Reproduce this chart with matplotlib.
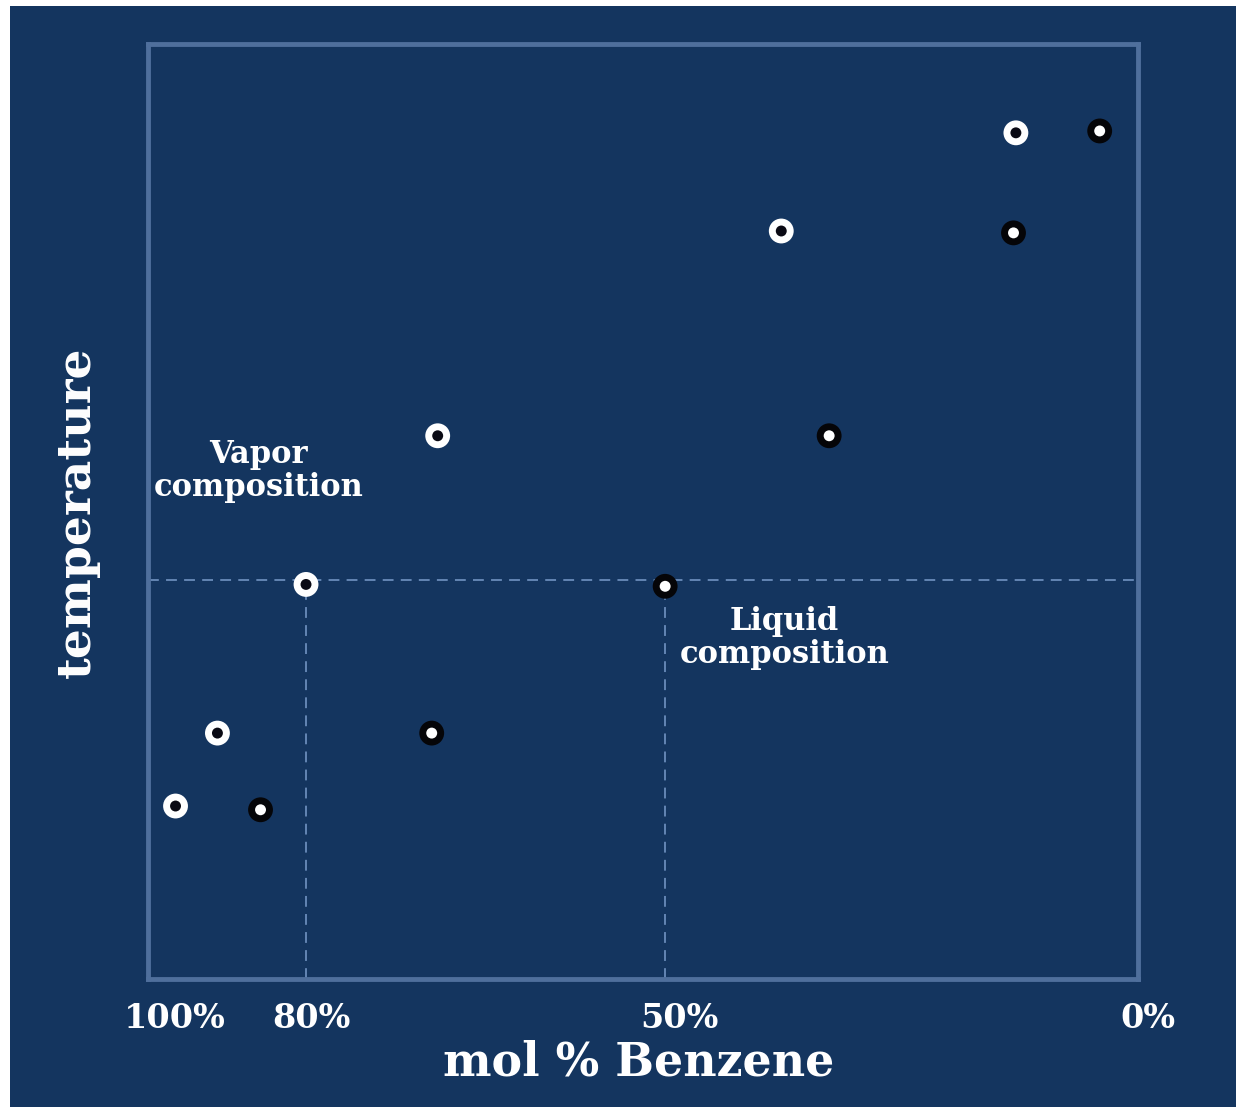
import matplotlib
matplotlib.use("Agg")
import matplotlib.pyplot as plt
from matplotlib.patches import Rectangle

# mol % benzene (x) and temperature (arbitrary units, y)
vapor_x = [90.9, 87.4, 80.0, 69.0, 40.3, 20.7]
vapor_y = [18.5, 26.3, 42.2, 58.1, 80.0, 90.5]
liquid_x = [83.8, 69.5, 50.0, 36.3, 20.9, 13.7]
liquid_y = [18.1, 26.3, 42.0, 58.1, 79.8, 90.7]

tick_labels = ["100%", "80%", "50%", "0%"]
tick_pos = [0.027, 0.165, 0.537, 1.010]   # axes fraction

guide_y = 42.7
guide_x = [80.0, 50.0]

bg = "#14355f"
edge = "#4f6f9c"
font = "DejaVu Serif"

W, H = 1236, 1107
fig = plt.figure(figsize=(W / 100, H / 100), dpi=100)
fig.patch.set_facecolor("white")
fig.patches.append(Rectangle((10 / W, 0), 1 - 10 / W, 1 - 6 / H,
                             transform=fig.transFigure, facecolor=bg,
                             edgecolor="none", zorder=-5))

ax = fig.add_axes([148 / W, 1 - 979 / H, 990 / W, 935 / H])
ax.set_facecolor(bg)
ax.set_xlim(93.2, 10.5)
ax.set_ylim(0, 100)
for s in ax.spines.values():
    s.set_color(edge)
    s.set_linewidth(3.5)
ax.set_xticks([])
ax.set_yticks([])

# guide lines
ax.axhline(guide_y, color="#6a8cba", lw=1.3, ls=(0, (6, 4)), zorder=1)
for gx in guide_x:
    ax.plot([gx, gx], [0, guide_y], color="#6a8cba", lw=1.3,
            ls=(0, (6, 4)), zorder=1)

# vapor: white ring, dark centre
ax.scatter(vapor_x, vapor_y, s=320, c="white", edgecolors="none", zorder=3)
ax.scatter(vapor_x, vapor_y, s=62, c="#0a0a14", edgecolors="none", zorder=4)
# liquid: black ring, white centre
ax.scatter(liquid_x, liquid_y, s=320, c="#050508", edgecolors="none", zorder=3)
ax.scatter(liquid_x, liquid_y, s=62, c="white", edgecolors="none", zorder=4)

ax.text(0.112, 0.543, "Vapor\ncomposition", transform=ax.transAxes,
        ha="center", va="center", color="white", fontsize=22,
        fontweight="bold", family=font, linespacing=1.1)
ax.text(0.643, 0.365, "Liquid\ncomposition", transform=ax.transAxes,
        ha="center", va="center", color="white", fontsize=22,
        fontweight="bold", family=font, linespacing=1.1)

for lab, p in zip(tick_labels, tick_pos):
    ax.text(p, -0.042, lab, transform=ax.transAxes, ha="center", va="center",
            color="white", fontsize=24, fontweight="bold", family=font,
            clip_on=False)

fig.text(0.517, 1 - 1063 / H, "mol % Benzene", ha="center", va="center",
         color="white", fontsize=33, fontweight="bold", family=font)
fig.text(77 / W, 1 - 512 / H, "temperature", ha="center", va="center",
         rotation=90, color="white", fontsize=34, fontweight="bold",
         family=font)

fig.savefig("out.png", dpi=100, facecolor=fig.get_facecolor())
